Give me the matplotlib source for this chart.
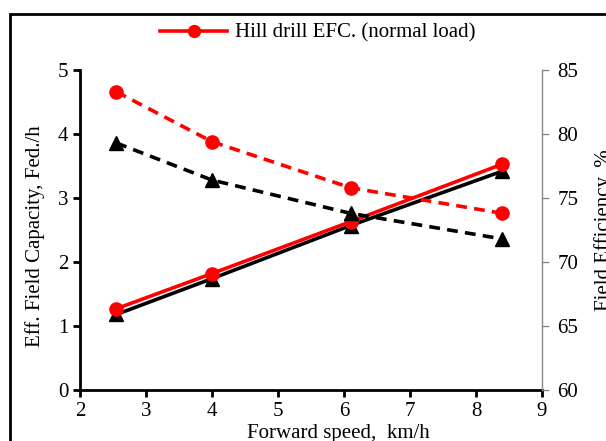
import matplotlib
matplotlib.use("Agg")
import matplotlib.pyplot as plt
from matplotlib.patches import Rectangle

plt.rcParams['font.family'] = ['Liberation Serif', 'DejaVu Serif']

# data
speed = [2.55, 4.0, 6.1, 8.4]
efc_normal = [1.27, 1.82, 2.63, 3.53]
efc_heavy = [1.18, 1.74, 2.57, 3.42]
fe_normal = [83.3, 79.4, 75.8, 73.8]
fe_heavy = [79.3, 76.4, 73.8, 71.8]

fig = plt.figure(figsize=(6.06, 4.41), dpi=100)
ax = fig.add_axes([80/606, 1-390/441, 462/606, 320/441])
ax2 = ax.twinx()

# outer frame of the original figure (cropped)
fig.patches.append(Rectangle((10/606, -0.1), 1.2, 1-14/441+0.1, transform=fig.transFigure,
                             fill=False, edgecolor='black', linewidth=2, zorder=0))

l1, = ax.plot(speed, efc_normal, '-o', color='#ff0000', lw=2.6, ms=9.5, zorder=4,
              label='Hill drill EFC. (normal load)')
ax.plot(speed, efc_heavy, '-^', color='black', lw=2.6, ms=9.5, zorder=3)
ax2.plot(speed, fe_normal, '--o', color='#ff0000', lw=2.6, ms=9.5, dashes=(3, 2))
ax2.plot(speed, fe_heavy, '--^', color='black', lw=2.6, ms=9.5, dashes=(3, 2))

ax.set_xlim(2, 9)
ax.set_ylim(0, 5)
ax2.set_ylim(60, 85)
ax.set_xticks(range(2, 10))
ax.set_yticks(range(0, 6))
ax2.set_yticks(range(60, 90, 5))

ax.spines['top'].set_visible(False)
ax2.spines['top'].set_visible(False)
ax.spines['left'].set_linewidth(2)
ax.spines['bottom'].set_linewidth(2)
ax2.spines['left'].set_visible(False)
ax2.spines['bottom'].set_visible(False)
ax.spines['right'].set_visible(False)
ax2.spines['right'].set_color('#888888')
ax2.spines['right'].set_linewidth(1)

ax.tick_params(axis='both', direction='out', length=5, width=2, labelsize=15, colors='black')
ax.tick_params(axis='x', pad=4)
ax2.tick_params(axis='y', direction='out', length=5, width=1, color='#888888',
                labelcolor='black', labelsize=15, pad=6)

ax.set_ylabel('Eff. Field Capacity, Fed./h', fontsize=15)
ax.yaxis.set_label_coords(-0.076, 0.48)
ax2.set_ylabel('Field Efficiency, %', fontsize=15)
ax2.yaxis.set_label_coords(1.113, 0.5)
ax.set_xlabel('Forward speed,  km/h', fontsize=15)
ax.xaxis.set_label_coords(0.56, -0.105)

fig.legend(handles=[l1], loc='center', bbox_to_anchor=(318/606, 1-33/441), frameon=False,
           fontsize=15, handlelength=3.2, handletextpad=0.4, borderaxespad=0,
           markerscale=0.9)

fig.savefig('out.png', dpi=100)
